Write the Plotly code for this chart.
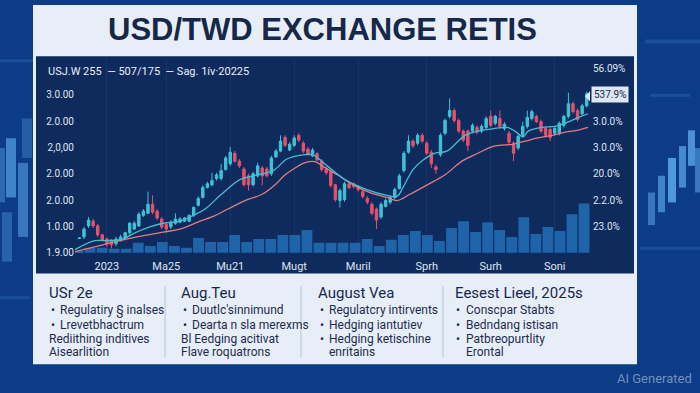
import plotly.graph_objects as go

W, H = 700, 393

# ---------------- data ----------------
candle_open = [29.27, 29.30, 29.51, 29.60, 29.51, 29.34, 29.26, 29.24, 29.17, 29.23,
               29.28, 29.38, 29.45, 29.51, 29.71, 29.75, 29.92, 29.79, 29.64, 29.54,
               29.49, 29.56, 29.58, 29.60, 29.60, 29.71, 29.90, 30.05, 30.24, 30.29,
               30.41, 30.41, 30.58, 30.69, 30.89, 30.74, 30.59, 30.46, 30.29, 30.46,
               30.61, 30.59, 30.50, 30.82, 30.93, 31.19, 30.95, 31.04, 31.23, 31.08,
               30.97, 30.84, 30.88, 30.74, 30.59, 30.54, 30.29, 29.99, 30.01, 30.31,
               30.31, 30.26, 30.16, 30.03, 29.92, 29.83, 29.68, 29.88, 29.96, 30.05,
               30.22, 30.56, 30.91, 31.12, 31.08, 31.23, 31.08, 30.91, 30.63, 30.86,
               31.27, 31.59, 31.70, 31.51, 31.31, 31.31, 31.31, 31.38, 31.31, 31.38,
               31.59, 31.46, 31.55, 31.36, 31.27, 31.08, 30.99, 31.23, 31.40, 31.55,
               31.59, 31.49, 31.36, 31.34, 31.27, 31.27, 31.42, 31.59, 31.83, 31.70,
               31.64, 31.79]
candle_high = [29.29, 29.49, 29.68, 29.64, 29.55, 29.36, 29.29, 29.26, 29.30, 29.34,
               29.40, 29.58, 29.60, 29.77, 29.83, 30.16, 30.09, 29.83, 29.68, 29.58,
               29.62, 29.75, 29.68, 29.68, 29.73, 29.88, 30.07, 30.28, 30.35, 30.52,
               30.52, 30.69, 30.84, 31.01, 30.93, 30.78, 30.63, 30.50, 30.54, 30.71,
               30.65, 30.63, 30.84, 30.97, 31.23, 31.23, 31.10, 31.23, 31.27, 31.12,
               31.01, 30.99, 30.91, 30.78, 30.63, 30.58, 30.31, 30.22, 30.35, 30.35,
               30.33, 30.28, 30.20, 30.07, 29.96, 29.86, 29.96, 30.03, 30.09, 30.24,
               30.50, 30.93, 31.23, 31.16, 31.27, 31.27, 31.12, 30.95, 30.67, 31.27,
               31.55, 31.93, 31.74, 31.55, 31.34, 31.34, 31.46, 31.42, 31.44, 31.59,
               31.70, 31.62, 31.70, 31.48, 31.31, 31.12, 31.25, 31.49, 31.70, 31.72,
               31.62, 31.53, 31.40, 31.38, 31.40, 31.49, 31.62, 32.04, 31.87, 31.74,
               31.83, 32.06]
candle_low = [29.26, 29.26, 29.47, 29.47, 29.30, 29.21, 29.11, 29.08, 29.13, 29.21,
              29.26, 29.34, 29.43, 29.49, 29.68, 29.73, 29.73, 29.62, 29.45, 29.41,
              29.45, 29.53, 29.56, 29.58, 29.58, 29.68, 29.88, 30.03, 30.22, 30.26,
              30.37, 30.37, 30.56, 30.65, 30.71, 30.61, 30.26, 30.18, 30.26, 30.43,
              30.28, 30.43, 30.46, 30.80, 30.91, 31.01, 30.93, 31.01, 31.10, 30.89,
              30.84, 30.82, 30.74, 30.54, 30.48, 30.24, 29.97, 29.86, 29.97, 30.20,
              30.22, 30.16, 30.03, 29.92, 29.71, 29.45, 29.64, 29.86, 29.92, 30.01,
              30.20, 30.52, 30.88, 30.99, 31.04, 31.08, 30.86, 30.61, 30.50, 30.82,
              31.23, 31.55, 31.47, 31.27, 31.10, 30.93, 31.27, 31.25, 31.27, 31.34,
              31.38, 31.42, 31.36, 31.32, 31.06, 30.74, 30.95, 31.19, 31.36, 31.51,
              31.46, 31.27, 31.19, 31.12, 31.23, 31.23, 31.38, 31.55, 31.64, 31.49,
              31.60, 31.76]
candle_close = [29.28, 29.45, 29.62, 29.51, 29.34, 29.23, 29.17, 29.15, 29.26, 29.30,
                29.38, 29.56, 29.56, 29.73, 29.79, 29.92, 29.77, 29.66, 29.49, 29.45,
                29.58, 29.64, 29.64, 29.66, 29.71, 29.86, 30.03, 30.24, 30.31, 30.37,
                30.48, 30.56, 30.80, 30.91, 30.74, 30.65, 30.29, 30.29, 30.50, 30.65,
                30.46, 30.46, 30.80, 30.93, 31.12, 31.04, 31.06, 31.18, 31.14, 30.93,
                30.88, 30.95, 30.76, 30.58, 30.52, 30.28, 30.01, 30.18, 30.31, 30.24,
                30.26, 30.20, 30.07, 29.96, 29.75, 29.62, 29.92, 29.99, 30.05, 30.20,
                30.46, 30.89, 31.12, 31.03, 31.23, 31.12, 30.89, 30.69, 30.58, 31.23,
                31.51, 31.70, 31.51, 31.31, 31.14, 31.04, 31.42, 31.29, 31.40, 31.55,
                31.42, 31.59, 31.40, 31.44, 31.10, 30.89, 31.21, 31.40, 31.57, 31.68,
                31.49, 31.31, 31.23, 31.19, 31.36, 31.46, 31.59, 31.83, 31.68, 31.53,
                31.79, 32.02]
session = list(range(len(candle_open)))

ma_fast_x = [-0.97, 3.4, 6.0, 9.5, 11.7, 15.4, 18.3, 22.0, 24.9, 27.5, 30.8, 35.1, 38.0,
             42.4, 45.4, 48.9, 51.1, 54.2, 58.5, 62.9, 67.3, 69.5, 70.8, 73.0, 75.2,
             77.8, 80.4, 84.4, 87.2, 90.9, 93.6, 95.3, 97.1, 98.2, 101.2, 104.1,
             106.3, 109.2, 111.3]
ma_fast_y = [29.06, 29.23, 29.23, 29.26, 29.36, 29.49, 29.56, 29.60, 29.71, 29.83, 30.09,
             30.39, 30.46, 30.56, 30.78, 30.86, 30.86, 30.65, 30.37, 30.20, 30.09, 30.07,
             30.24, 30.58, 30.76, 30.89, 30.93, 31.23, 31.31, 31.36, 31.38, 31.31, 31.20,
             31.31, 31.38, 31.40, 31.46, 31.57, 31.64]
ma_slow_x = [-0.97, 6.0, 8.9, 12.6, 18.3, 22.0, 26.4, 29.0, 32.5, 36.2, 40.0, 42.8, 45.0,
             47.2, 49.4, 51.5, 53.1, 56.4, 59.9, 63.6, 67.3, 69.5, 72.3, 76.1, 80.0,
             83.7, 87.2, 90.9, 94.7, 97.5, 100.3, 103.4, 106.3, 109.2, 111.3]
ma_slow_y = [29.02, 29.17, 29.23, 29.30, 29.39, 29.45, 29.60, 29.68, 29.83, 29.99, 30.11,
             30.29, 30.48, 30.61, 30.71, 30.73, 30.65, 30.48, 30.29, 30.14, 30.05, 29.99,
             30.11, 30.29, 30.48, 30.74, 30.89, 31.03, 31.06, 31.12, 31.18, 31.23, 31.29,
             31.33, 31.38]

volume = [0.75, 1.9, 1.9, 1.5, 1.5, 3.75, 2.6, 4.1, 2.6, 1.9,
          5.6, 4.1, 4.1, 6.75, 4.1, 5.25, 5.25, 6.75, 6.75, 8.6,
          3.75, 3.75, 3.75, 3.75, 5.25, 2.6, 4.9, 6.75, 8.25, 6.75,
          4.5, 9.4, 12.0, 7.9, 11.6, 8.6, 6.0, 13.5, 7.1, 9.75,
          8.25, 14.6, 18.75]
volume_period = list(range(len(volume)))

x_tick_pos = [6, 19, 33, 47, 61, 76, 90, 104]
x_tick_text = ["2023", "Ma25", "Mu21", "Mugt", "Muril", "Sprh", "Surh", "Soni"]
price_tick_vals = [29.0, 29.5, 30.0, 30.5, 31.0, 31.5, 32.0]
price_tick_text = ["1.9.00", "1.0.00", "2.0.00", "2.0.00", "2,0,00", "2.0.00", "3.0.00"]
vol_tick_vals = [10, 20, 30, 40, 50, 60, 70]
vol_tick_text = ["23.0%", "2.2.0%", "20.0%", "3.0.0%", "3.0.0%", "", "56.09%"]
last_tag_text = "537.9%"
last_tag_level = 60

title_text = "USD/TWD EXCHANGE RETIS"
legend_text = "USJ.W 255  \u2014 507/175  \u2014 Sag. 1\u00edv\u00b720225"

col_headers = ["USr 2e", "Aug.Teu", "August Vea", "Eesest Lieel, 2025s"]
col_lines = [
    ["Regulatiry \u00a7 inalses", "Lrevetbhactrum", "Rediithing inditives", "Aisearlition"],
    ["Duutlc'sinnimund", "Dearta n sla merexms", "Bl Eedging acitivat", "Flave roquatrons"],
    ["Regulatcry intirvents", "Hedging iantutiev", "Hedging ketischine", "enritains"],
    ["Conscpar Stabts", "Bedndang istisan", "Patbreopurtlity", "Erontal"],
]
# 1 = bulleted line, 2 = continuation indented under bullet text, 0 = flush left
col_style = [[1, 1, 0, 0], [1, 1, 0, 0], [1, 1, 1, 2], [1, 1, 1, 2]]

# ---------------- layout helpers ----------------
def fx(px):
    return px / W

def fy(py):
    return 1 - py / H

X0, X1, Y0, Y1 = 75, 592, 60, 256.5
xdom = [fx(X0), fx(X1)]
ydom = [fy(Y1), fy(Y0)]

TEAL = "#3fc3d6"
RED = "#e5526d"
NAVY = "#16284a"
TICK = "#dfe6f2"
BASEFONT = "Roboto, Liberation Sans, sans-serif"

fig = go.Figure()

fig.add_trace(go.Bar(
    x=volume_period, y=volume, width=0.9,
    marker=dict(color="#1f64a8", line=dict(width=0)),
    xaxis="x", yaxis="y", hoverinfo="skip"))

fig.add_trace(go.Scatter(
    x=ma_slow_x, y=ma_slow_y, mode="lines",
    line=dict(color="#e07d80", width=1.3, shape="spline", smoothing=1.0),
    xaxis="x2", yaxis="y2"))
fig.add_trace(go.Scatter(
    x=ma_fast_x, y=ma_fast_y, mode="lines",
    line=dict(color="#47bcd2", width=1.3, shape="spline", smoothing=1.0),
    xaxis="x2", yaxis="y2"))

fig.add_trace(go.Candlestick(
    x=session, open=candle_open, high=candle_high, low=candle_low, close=candle_close,
    increasing=dict(line=dict(color=TEAL, width=1), fillcolor=TEAL),
    decreasing=dict(line=dict(color=RED, width=1), fillcolor=RED),
    whiskerwidth=0, xaxis="x2", yaxis="y2"))

# decorative glowing background bars (illustration only, not chart data)
decor = [
    (0, 5, 150, 205, 0.35), (6, 16, 140, 200, 0.55), (18, 28, 165, 240, 0.45),
    (2, 12, 215, 265, 0.30), (22, 32, 120, 160, 0.25),
    (648, 655, 195, 228, 0.45), (658, 665, 178, 215, 0.55), (668, 676, 160, 205, 0.70),
    (679, 686, 148, 190, 0.60), (688, 695, 132, 168, 0.65), (695, 700, 150, 195, 0.45),
    (645, 700, 40, 44, 0.15), (650, 690, 95, 98, 0.15), (640, 700, 250, 253, 0.15),
    (0, 33, 60, 63, 0.15), (0, 30, 300, 303, 0.15),
]
shapes = []
for (a, b, c, d, op) in decor:
    shapes.append(dict(type="rect", xref="paper", yref="paper", x0=fx(a), x1=fx(b),
                       y0=fy(d), y1=fy(c), fillcolor="rgba(110,190,255,{})".format(op),
                       line=dict(width=0), layer="below"))
shapes += [
    dict(type="rect", xref="paper", yref="paper", x0=fx(33), x1=fx(637), y0=fy(369), y1=fy(5),
         fillcolor="#e8eef7", line=dict(width=0), layer="below"),
    dict(type="rect", xref="paper", yref="paper", x0=fx(36), x1=fx(634), y0=fy(277), y1=fy(57),
         fillcolor="#0f2a5c", line=dict(width=0), layer="below"),
    dict(type="path", xref="paper", yref="paper",
         path="M {} {} L {} {} L {} {} Z".format(fx(585), fy(97.5), fx(590), fy(92.5), fx(590), fy(102.5)),
         fillcolor="#dde7f3", line=dict(width=0)),
]
for sx in [165, 301, 443]:
    shapes.append(dict(type="line", xref="paper", yref="paper", x0=fx(sx), x1=fx(sx),
                       y0=fy(362), y1=fy(290), line=dict(color="#b9c4d6", width=1)))

annotations = [
    dict(text="<b>" + title_text + "</b>", x=fx(322), y=fy(30), xref="paper", yref="paper",
         xanchor="center", yanchor="middle", showarrow=False,
         font=dict(family="Liberation Sans, Arial, sans-serif", size=31, color=NAVY)),
    dict(text=legend_text, x=fx(46), y=fy(72), xref="paper", yref="paper",
         xanchor="left", yanchor="middle", showarrow=False,
         font=dict(family=BASEFONT, size=11, color="#e8eef8")),
    dict(text=last_tag_text, x=fx(609.5), y=last_tag_level, xref="paper", yref="y",
         xanchor="center", yanchor="middle", showarrow=False,
         bgcolor="#dde7f3", borderpad=2,
         font=dict(family=BASEFONT, size=10, color=NAVY)),
    dict(text="AI Generated", x=fx(694), y=fy(383), xref="paper", yref="paper",
         xanchor="right", yanchor="middle", showarrow=False,
         font=dict(family=BASEFONT, size=13, color="rgba(130,155,195,0.9)")),
]

col_x = [47, 179, 316, 453]
line_y = [314, 329, 343, 357]
for c in range(4):
    annotations.append(dict(text=col_headers[c], x=fx(col_x[c]), y=fy(297), xref="paper",
                            yref="paper", xanchor="left", yanchor="middle", showarrow=False,
                            font=dict(family=BASEFONT, size=15, color=NAVY)))
    for j, t in enumerate(col_lines[c]):
        st = col_style[c][j]
        lf = dict(family=BASEFONT, size=12, color="#1d2c4e")
        if st == 1:
            annotations.append(dict(text="\u2022", x=fx(col_x[c] + 1.5), y=fy(line_y[j]),
                                    xref="paper", yref="paper", xanchor="left",
                                    yanchor="middle", showarrow=False, font=lf))
        tx = col_x[c] + (11 if st in (1, 2) else 0)
        annotations.append(dict(text=t, x=fx(tx), y=fy(line_y[j]), xref="paper",
                                yref="paper", xanchor="left", yanchor="middle",
                                showarrow=False, font=lf))

fig.update_layout(
    width=W, height=H, margin=dict(l=0, r=0, t=0, b=0),
    paper_bgcolor="#0c3c86", plot_bgcolor="rgba(0,0,0,0)",
    showlegend=False, shapes=shapes, annotations=annotations,
    font=dict(family=BASEFONT),
    bargap=0.1, boxgap=0.25,
    xaxis=dict(domain=xdom, range=[-0.25, 42.66], visible=False, anchor="y", fixedrange=True),
    yaxis=dict(domain=ydom, range=[-0.19, 73.5], side="right", anchor="x",
               tickvals=vol_tick_vals, ticktext=vol_tick_text, showgrid=False,
               zeroline=False, showline=False, ticks="",
               tickfont=dict(size=10, color=TICK)),
    xaxis2=dict(overlaying="x", range=[-0.97, 112.16], anchor="y2", side="bottom",
                tickvals=x_tick_pos, ticktext=x_tick_text, showgrid=True,
                gridcolor="rgba(120,150,210,0.10)", zeroline=False, showline=False,
                ticks="", ticklabelstandoff=5, tickfont=dict(size=11, color=TICK),
                rangeslider=dict(visible=False)),
    yaxis2=dict(overlaying="y", range=[28.990625, 32.675], side="left", anchor="x2",
                tickvals=price_tick_vals, ticktext=price_tick_text, showgrid=False,
                zeroline=False, showline=False, ticks="",
                tickfont=dict(size=10, color=TICK)),
)

fig.write_html("out.html", config={"displayModeBar": False},
               post_script="document.body.style.margin='0';document.body.style.overflow='hidden';")
